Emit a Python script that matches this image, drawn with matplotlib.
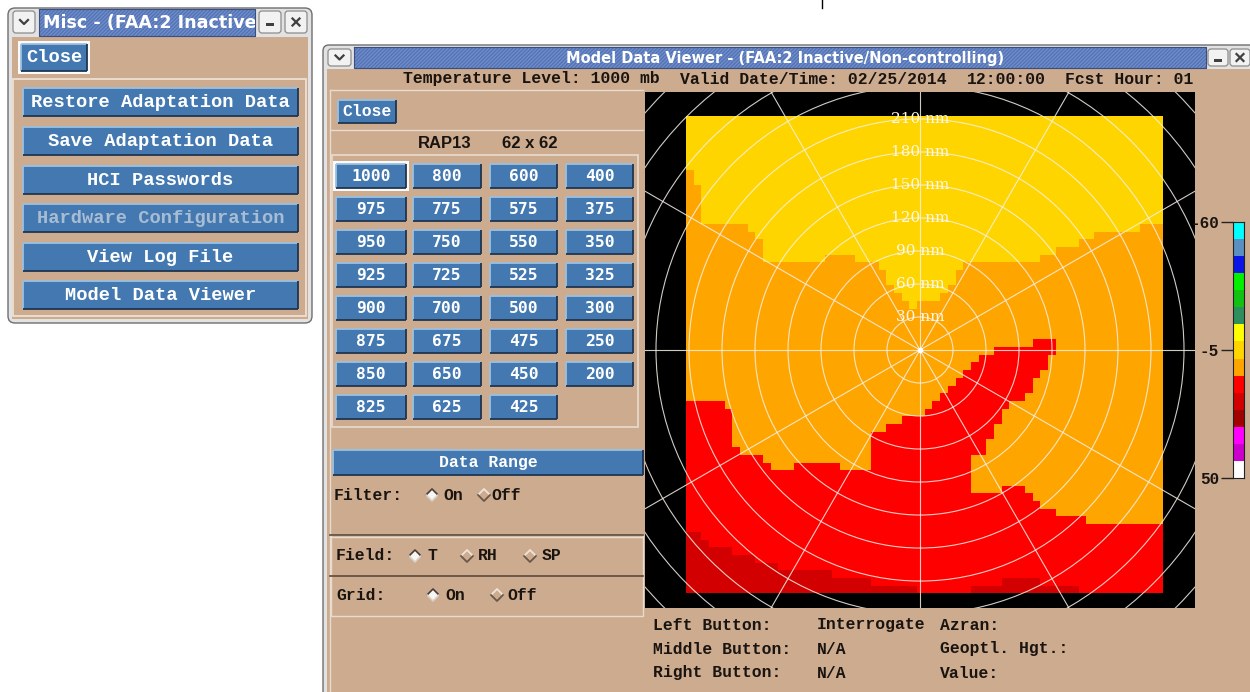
import numpy as np
import matplotlib.pyplot as plt
from matplotlib.patches import Rectangle, FancyBboxPatch, Circle, Polygon
from matplotlib.colors import ListedColormap

# ---------------- data ----------------
misc_buttons = ['Restore Adaptation Data', 'Save Adaptation Data', 'HCI Passwords',
                'Hardware Configuration', 'View Log File', 'Model Data Viewer']
level_cols = [
    ['1000', '975', '950', '925', '900', '875', '850', '825'],
    ['800', '775', '750', '725', '700', '675', '650', '625'],
    ['600', '575', '550', '525', '500', '475', '450', '425'],
    ['400', '375', '350', '325', '300', '250', '200'],
]
header_parts = ['Temperature Level: 1000 mb', 'Valid Date/Time: 02/25/2014',
                '12:00:00', 'Fcst Hour: 01']
bottom_rows = [('Left Button:', 'Interrogate', 'Azran:'),
               ('Middle Button:', 'N/A', 'Geoptl. Hgt.:'),
               ('Right Button:', 'N/A', 'Value:')]

cb_colors = ['#00FFFF', '#5A8FC2', '#0A14E6', '#00F000', '#12C212', '#2E8F5E',
             '#FFFF00', '#FFD500', '#FFA500', '#FF0000', '#D20000', '#A00000',
             '#FF00FF', '#CC00CC', '#FFFFFF']
cb_ticks = [-60, -5, 50]
cb_ticklabels = ['-60', '-5', '50']

ring_radii = [30, 60, 90, 120, 150, 180, 210, 240, 270, 300, 330, 360]
ring_labels = ['30 nm', '60 nm', '90 nm', '120 nm', '150 nm', '180 nm', '210 nm']
spoke_angles = [0, 30, 60, 90, 120, 150, 180, 210, 240, 270, 300, 330]

# RAP13 62 x 62 temperature grid, described column by column (row index from top)
# color index into cb_colors: 7 gold, 8 orange, 9 red, 10 dark red
yellow_end = [7, 9, 14, 14, 14, 14, 14, 14, 15, 16,
              19, 19, 19, 19, 19, 19, 19, 19, 18, 18,
              18, 18, 19, 19, 19, 20, 22, 23, 24, 25,
              24, 24, 24, 23, 22, 20, 19, 19, 19, 19,
              19, 19, 19, 19, 19, 19, 18, 18, 17, 17,
              17, 16, 16, 15, 15, 15, 15, 15, 15, 14,
              14, 14]
red_start = [37, 37, 37, 37, 37, 38, 43, 44, 44, 44,
             45, 46, 46, 46, 45, 45, 45, 45, 45, 45,
             46, 46, 46, 46, 41, 41, 40, 40, 39, 39,
             39, 38, 37, 36, 35, 34, 33, 32, 31, 31,
             30, 30, 30, 30, 30, 29, 29, 29, 52, 52,
             52, 52, 53, 53, 53, 53, 53, 53, 53, 53,
             53, 53]
tongue_end = [62, 62, 62, 62, 62, 62, 62, 62, 62, 62,
              62, 62, 62, 62, 62, 62, 62, 62, 62, 62,
              62, 62, 62, 62, 62, 62, 62, 62, 62, 62,
              62, 62, 62, 62, 62, 62, 62, 44, 44, 42,
              40, 38, 37, 37, 36, 34, 33, 31, 62, 62,
              62, 62, 62, 62, 62, 62, 62, 62, 62, 62,
              62, 62]
red2_start = [62, 62, 62, 62, 62, 62, 62, 62, 62, 62,
              62, 62, 62, 62, 62, 62, 62, 62, 62, 62,
              62, 62, 62, 62, 62, 62, 62, 62, 62, 62,
              62, 62, 62, 62, 62, 62, 62, 49, 49, 49,
              49, 48, 48, 48, 49, 50, 51, 51, 62, 62,
              62, 62, 62, 62, 62, 62, 62, 62, 62, 62,
              62, 62]
dark_start = [54, 54, 55, 56, 56, 56, 57, 57, 57, 58,
              58, 58, 59, 59, 59, 59, 59, 59, 59, 60,
              60, 60, 60, 60, 61, 61, 61, 61, 61, 61,
              62, 62, 62, 62, 62, 62, 62, 61, 61, 61,
              61, 60, 60, 60, 60, 60, 61, 61, 61, 61,
              61, 62, 62, 62, 62, 62, 62, 62, 62, 62,
              62, 62]

# ---------------- style ----------------
TAN = '#CCAB8F'
BTN = '#4379B0'
BTN_LIGHT = '#9CC0E0'
BTN_DARK = '#1F3550'
FRAME = '#E2E2E2'
TXT = '#1A1410'
MONO = 'Liberation Mono'
plt.rcParams['hatch.linewidth'] = 0.8

fig = plt.figure(figsize=(12.5, 6.92), dpi=100)
ax = fig.add_axes([0, 0, 1, 1])
ax.set_xlim(0, 1250)
ax.set_ylim(692, 0)
ax.axis('off')


def rect(x0, y0, x1, y1, fc, ec='none', lw=0, z=1, **kw):
    p = Rectangle((x0, y0), x1 - x0, y1 - y0, fc=fc, ec=ec, lw=lw, zorder=z, **kw)
    ax.add_patch(p)
    return p


def edges(x0, y0, x1, y1, light, dark, lw=1.3, z=3):
    ax.plot([x0, x1], [y0, y0], color=light, lw=lw, zorder=z, solid_capstyle='butt')
    ax.plot([x0, x0], [y0, y1], color=light, lw=lw, zorder=z, solid_capstyle='butt')
    ax.plot([x0, x1], [y1, y1], color=dark, lw=lw, zorder=z, solid_capstyle='butt')
    ax.plot([x1, x1], [y0, y1], color=dark, lw=lw, zorder=z, solid_capstyle='butt')


def button(x0, y0, x1, y1, label, fs, family=MONO, color='white', outline=False):
    if outline:
        rect(x0 - 3, y0 - 3, x1 + 3, y1 + 3, '#FAFAFA', z=2)
    rect(x0, y0, x1, y1, BTN, z=2)
    edges(x0, y0, x1, y1, BTN_LIGHT, BTN_DARK)
    ax.text((x0 + x1) / 2, (y0 + y1) / 2 + 0.5, label, ha='center', va='center',
            fontsize=fs, family=family, weight='bold', color=color, zorder=4)


def small_box(x0, y0, x1, y1, kind):
    ax.add_patch(FancyBboxPatch((x0, y0), x1 - x0, y1 - y0,
                                boxstyle='round,pad=0,rounding_size=3',
                                fc='#F2F2F2', ec='#8C8C8C', lw=0.9, zorder=3))
    cx, cy = (x0 + x1) / 2, (y0 + y1) / 2
    if kind == 'v':
        ax.plot([cx - 4, cx, cx + 4], [cy - 2, cy + 2, cy - 2], color='#404040',
                lw=1.6, zorder=4)
    elif kind == 'min':
        rect(cx - 4, cy + 1, cx + 4, cy + 4, '#404040', z=4)
    else:
        ax.plot([cx - 3.5, cx + 3.5], [cy - 3.5, cy + 3.5], color='#404040', lw=1.6, zorder=4)
        ax.plot([cx - 3.5, cx + 3.5], [cy + 3.5, cy - 3.5], color='#404040', lw=1.6, zorder=4)


def title_bar(x0, y0, x1, y1, label, fs, cx=None):
    p = rect(x0, y0, x1, y1, '#5574B6', ec='#7290CC', lw=0, z=2, hatch='/' * 9)
    ax.plot([x0, x1, x1, x0, x0], [y0, y0, y1, y1, y0], color='#3A4F80', lw=0.8, zorder=3)
    t = ax.text(cx if cx else x0 + 4, (y0 + y1) / 2 + 0.5, label,
                ha='center' if cx else 'left', va='center', fontsize=fs,
                family='DejaVu Sans', weight='bold', color='white', zorder=4,
                clip_on=True)
    t.set_clip_path(p)


def diamond(cx, cy, selected):
    top = [(cx - 6, cy), (cx, cy - 6), (cx + 6, cy)]
    bot = [(cx - 6, cy), (cx, cy + 6), (cx + 6, cy)]
    if selected:
        ax.add_patch(Polygon([(cx - 6, cy), (cx, cy - 6), (cx + 6, cy), (cx, cy + 6)],
                             closed=True, fc='#F8F6F2', ec='none', zorder=3))
        ax.plot(*zip(*top), color='#4A3C34', lw=1.2, zorder=4)
        ax.plot(*zip(*bot), color='#D8CFC6', lw=1.2, zorder=4)
    else:
        ax.plot(*zip(*top), color='#F0E4D8', lw=1.3, zorder=4)
        ax.plot(*zip(*bot), color='#6B5848', lw=1.3, zorder=4)


def label(x, y, s, fs=11.8):
    ax.text(x, y, s, ha='left', va='center', fontsize=fs, family=MONO,
            weight='bold', color=TXT, zorder=4)


# small artefact line at the top
ax.plot([822, 822], [0, 8], color='black', lw=1)

# ================= Misc window =================
ax.add_patch(FancyBboxPatch((8, 8), 304, 315, boxstyle='round,pad=0,rounding_size=7',
                            fc=FRAME, ec='#6E6E6E', lw=1.0, zorder=1))
rect(12, 37, 308, 319, TAN, z=1.5)
title_bar(39, 9, 255, 36, 'Misc - (FAA:2 Inactive/Non-controlling)', 12.6)
small_box(13, 11, 35, 33, 'v')
small_box(259, 11, 281, 33, 'min')
small_box(285, 11, 307, 33, 'x')
button(21, 44, 87, 71, 'Close', 13.5, outline=True)
rect(13, 79, 306, 316, 'none', ec='#EEE4DA', lw=1.2, z=2)
btn_tops = [88, 127, 166, 204, 243, 281]
for top, lab in zip(btn_tops, misc_buttons):
    col = '#A8BCD4' if lab.startswith('Hardware') else 'white'
    button(23, top, 298, top + 28, lab, 13.5, color=col)

# ================= Model Data Viewer window =================
ax.add_patch(FancyBboxPatch((323, 45), 940, 660, boxstyle='round,pad=0,rounding_size=6',
                            fc=FRAME, ec='#6E6E6E', lw=1.0, zorder=1))
rect(327, 69, 1250, 692, TAN, z=1.5)
title_bar(354, 47, 1206, 68, 'Model Data Viewer - (FAA:2 Inactive/Non-controlling)',
          10.5, cx=785)
small_box(328, 49, 351, 66, 'v')
small_box(1208, 49, 1228, 66, 'min')
small_box(1230, 49, 1250, 66, 'x')

header_x = [403, 680, 967, 1065]
for hx, part in zip(header_x, header_parts):
    label(hx, 79, part)

# left control panel
ax.plot([330, 643], [90, 90], color='#E8DCCF', lw=1, zorder=2)
ax.plot([330, 330], [90, 692], color='#E8DCCF', lw=1, zorder=2)
ax.plot([330, 643], [130, 130], color='#E8DCCF', lw=1, zorder=2)
button(338, 100, 396, 123, 'Close', 11.8)
ax.text(445, 143, 'RAP13', ha='center', va='center', fontsize=12,
        family='Liberation Sans', weight='bold', color=TXT, zorder=4)
ax.text(530, 143, '62 x 62', ha='center', va='center', fontsize=12,
        family='Liberation Sans', weight='bold', color=TXT, zorder=4)
rect(332, 155, 638, 427, 'none', ec='#E8DCCF', lw=1.2, z=2)

col_x = [(336, 406), (413, 481), (490, 557), (566, 633)]
for (x0, x1), labels in zip(col_x, level_cols):
    for k, lab in enumerate(labels):
        cy = 176 + 33 * k
        button(x0, cy - 12, x1, cy + 12, lab, 11.8, family='DejaVu Sans Mono',
               outline=(lab == '1000'))

button(333, 450, 643, 475, 'Data Range', 11.8)

label(334, 495, 'Filter:')
diamond(432, 495, True)
label(443, 495, 'On')
diamond(484, 495, False)
label(491, 495, 'Off')

ax.plot([330, 643], [535, 535], color='#5A4A3E', lw=1.2, zorder=3)
ax.plot([330, 643], [537, 537], color='#E8DCCF', lw=1, zorder=3)
ax.plot([330, 643], [576, 576], color='#5A4A3E', lw=1.2, zorder=3)
rect(331, 535, 643, 616, 'none', ec='#E8DCCF', lw=1.0, z=2)

label(336, 556, 'Field:')
diamond(415, 556, True)
label(427, 556, 'T')
diamond(467, 556, False)
label(478, 556, 'RH')
diamond(530, 556, False)
label(542, 556, 'SP')

label(336, 595, 'Grid:')
diamond(433, 595, True)
label(445, 595, 'On')
diamond(497, 595, False)
label(507, 595, 'Off')

# bottom info lines
for (a, b, c), yy in zip(bottom_rows, [625, 649, 673]):
    for xx, s in zip([653, 817, 940], [a, b, c]):
        label(xx, yy, s)

# ================= radar display =================
W, H = 1250, 692
rax = fig.add_axes([645 / W, (H - 608) / H, 550 / W, 516 / H])
rax.set_facecolor('black')
rax.set_xlim(-250, 250)
rax.set_ylim(-234.5, 234.5)
rax.set_xticks([])
rax.set_yticks([])
for s in rax.spines.values():
    s.set_visible(False)

field = np.full((62, 62), 8)
rows = np.arange(62)[:, None]
field = np.where(rows < np.array(yellow_end)[None, :], 7, field)
field = np.where((rows >= np.array(red_start)[None, :]) & (rows < np.array(tongue_end)[None, :]), 9, field)
field = np.where(rows >= np.array(red2_start)[None, :], 9, field)
field = np.where(rows >= np.array(dark_start)[None, :], 10, field)

cell = 7.0
x_edges = -212.7 + cell * np.arange(63)
y_edges = 212.7 - cell * np.arange(63)
cmap = ListedColormap(cb_colors)
rax.pcolormesh(x_edges, y_edges, field, cmap=cmap, vmin=-0.5, vmax=14.5, zorder=1)

for r in ring_radii:
    rax.add_patch(Circle((0, 0), r, fill=False, ec='#F4F0E8', lw=0.8, alpha=0.85, zorder=2))
for a in spoke_angles:
    t = np.deg2rad(a)
    rax.plot([0, 420 * np.cos(t)], [0, 420 * np.sin(t)], color='#F4F0E8', lw=0.8,
             alpha=0.85, zorder=2)
rax.plot(0, 0, 'o', color='white', ms=3, zorder=3)
for r, lab in zip(ring_radii, ring_labels):
    rax.text(0, r, lab, ha='center', va='center', fontsize=11, family='DejaVu Serif',
             color='#FFF8E8', zorder=4)

# ================= colour bar =================
cax = fig.add_axes([1233 / W, (H - 478) / H, 11 / W, 256 / H])
cb_edges = np.linspace(-60, 50, len(cb_colors) + 1)
cax.pcolormesh([0, 1], cb_edges, np.arange(len(cb_colors)).reshape(-1, 1), cmap=cmap,
               vmin=-0.5, vmax=14.5)
cax.set_ylim(50, -60)
cax.set_xlim(0, 1)
cax.set_xticks([])
cax.set_yticks(cb_ticks)
cax.set_yticklabels(cb_ticklabels, family=MONO, weight='bold', fontsize=11.5, color=TXT)
cax.tick_params(axis='y', length=9, width=1.0, pad=1, color='#222222')
for s in cax.spines.values():
    s.set_linewidth(0.8)
    s.set_color('#222222')

fig.savefig('out.png', dpi=100)
